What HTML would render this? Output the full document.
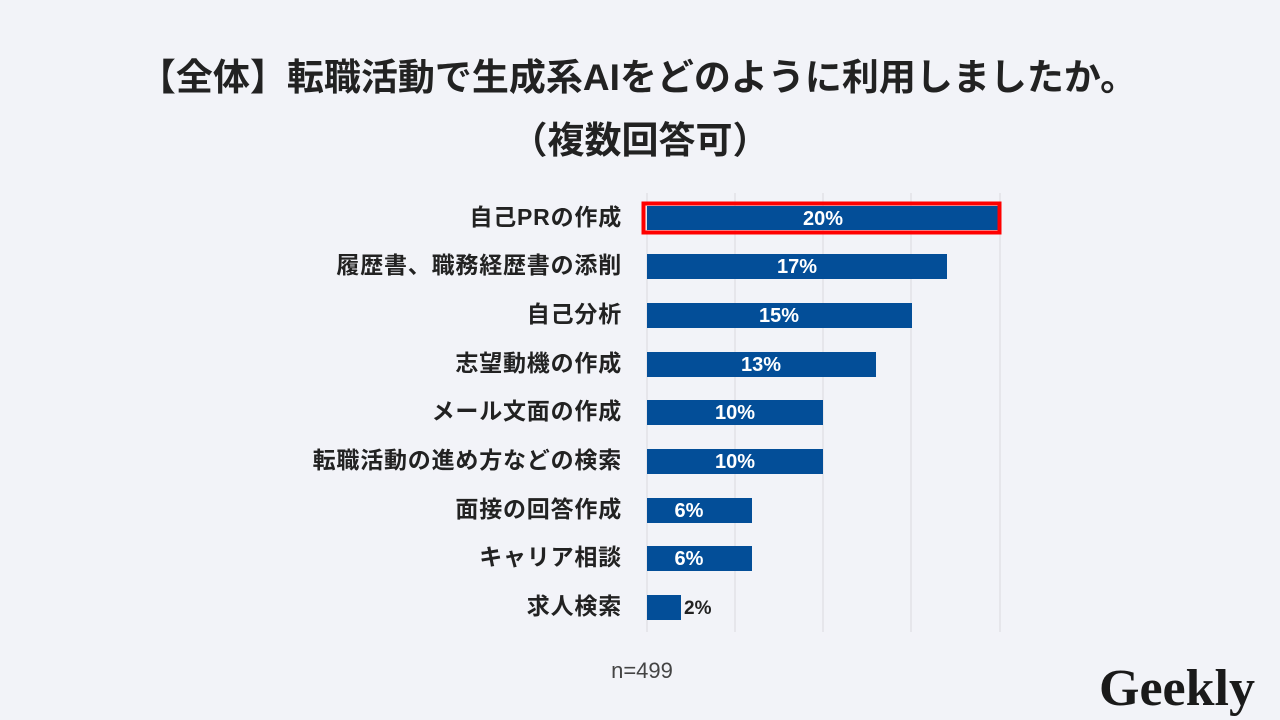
<!DOCTYPE html>
<html><head><meta charset="utf-8"><style>
html,body{margin:0;padding:0;background:#f2f3f8;}
body{width:1280px;height:720px;overflow:hidden;position:relative;font-family:"Liberation Sans","Noto Sans CJK JP",sans-serif;}
</style></head><body>
<svg width="1280" height="720" xmlns="http://www.w3.org/2000/svg" style="position:absolute;left:0;top:0">
<rect width="1280" height="720" fill="#f2f3f8"/>
<text x="638" y="90" text-anchor="middle" font-size="37" font-weight="bold" fill="#222" font-family="Liberation Sans, Noto Sans CJK JP, sans-serif">【全体】転職活動で生成系AIをどのように利用しましたか。</text>
<text x="640" y="153" text-anchor="middle" font-size="37" font-weight="bold" fill="#222" font-family="Liberation Sans, Noto Sans CJK JP, sans-serif">（複数回答可）</text>
<g stroke="#d9d9de" stroke-width="1">
<line x1="647" y1="193" x2="647" y2="632"/><line x1="735" y1="193" x2="735" y2="632"/><line x1="823" y1="193" x2="823" y2="632"/><line x1="911" y1="193" x2="911" y2="632"/><line x1="1000" y1="193" x2="1000" y2="632"/>
</g>
<g fill="#034e98">
<rect x="647" y="206" width="351" height="24"/>
<rect x="647" y="254" width="300" height="25"/>
<rect x="647" y="303" width="265" height="25"/>
<rect x="647" y="352" width="229" height="25"/>
<rect x="647" y="400" width="176" height="25"/>
<rect x="647" y="449" width="176" height="25"/>
<rect x="647" y="498" width="105" height="25"/>
<rect x="647" y="546" width="105" height="25"/>
<rect x="647" y="595" width="34" height="25"/>
</g>
<rect x="643.5" y="203.5" width="356" height="29" fill="none" stroke="#ff0000" stroke-width="4"/>
<g font-size="20" font-weight="bold" fill="#fff" text-anchor="middle" font-family="Liberation Sans, Noto Sans CJK JP, sans-serif">
<text x="823" y="225">20%</text>
<text x="797" y="273">17%</text>
<text x="779" y="322">15%</text>
<text x="761" y="371">13%</text>
<text x="735" y="419">10%</text>
<text x="735" y="468">10%</text>
<text x="689" y="517">6%</text>
<text x="689" y="565">6%</text>
</g>
<text x="684" y="614" font-size="19" font-weight="bold" fill="#222">2%</text>
<g font-size="23" font-weight="bold" fill="#222" text-anchor="end" letter-spacing="0.8" font-family="Liberation Sans, Noto Sans CJK JP, sans-serif">
<text x="622" y="225">自己PRの作成</text>
<text x="622" y="273">履歴書、職務経歴書の添削</text>
<text x="622" y="322">自己分析</text>
<text x="622" y="371">志望動機の作成</text>
<text x="622" y="419">メール文面の作成</text>
<text x="622" y="468">転職活動の進め方などの検索</text>
<text x="622" y="517">面接の回答作成</text>
<text x="622" y="565">キャリア相談</text>
<text x="622" y="614">求人検索</text>
</g>
<text x="642" y="678" text-anchor="middle" font-size="22" fill="#444">n=499</text>
<text x="1177" y="705" text-anchor="middle" font-size="52" font-weight="bold" fill="#1a1a1a" font-family="Liberation Serif, serif">Geekly</text>
</svg>
</body></html>
